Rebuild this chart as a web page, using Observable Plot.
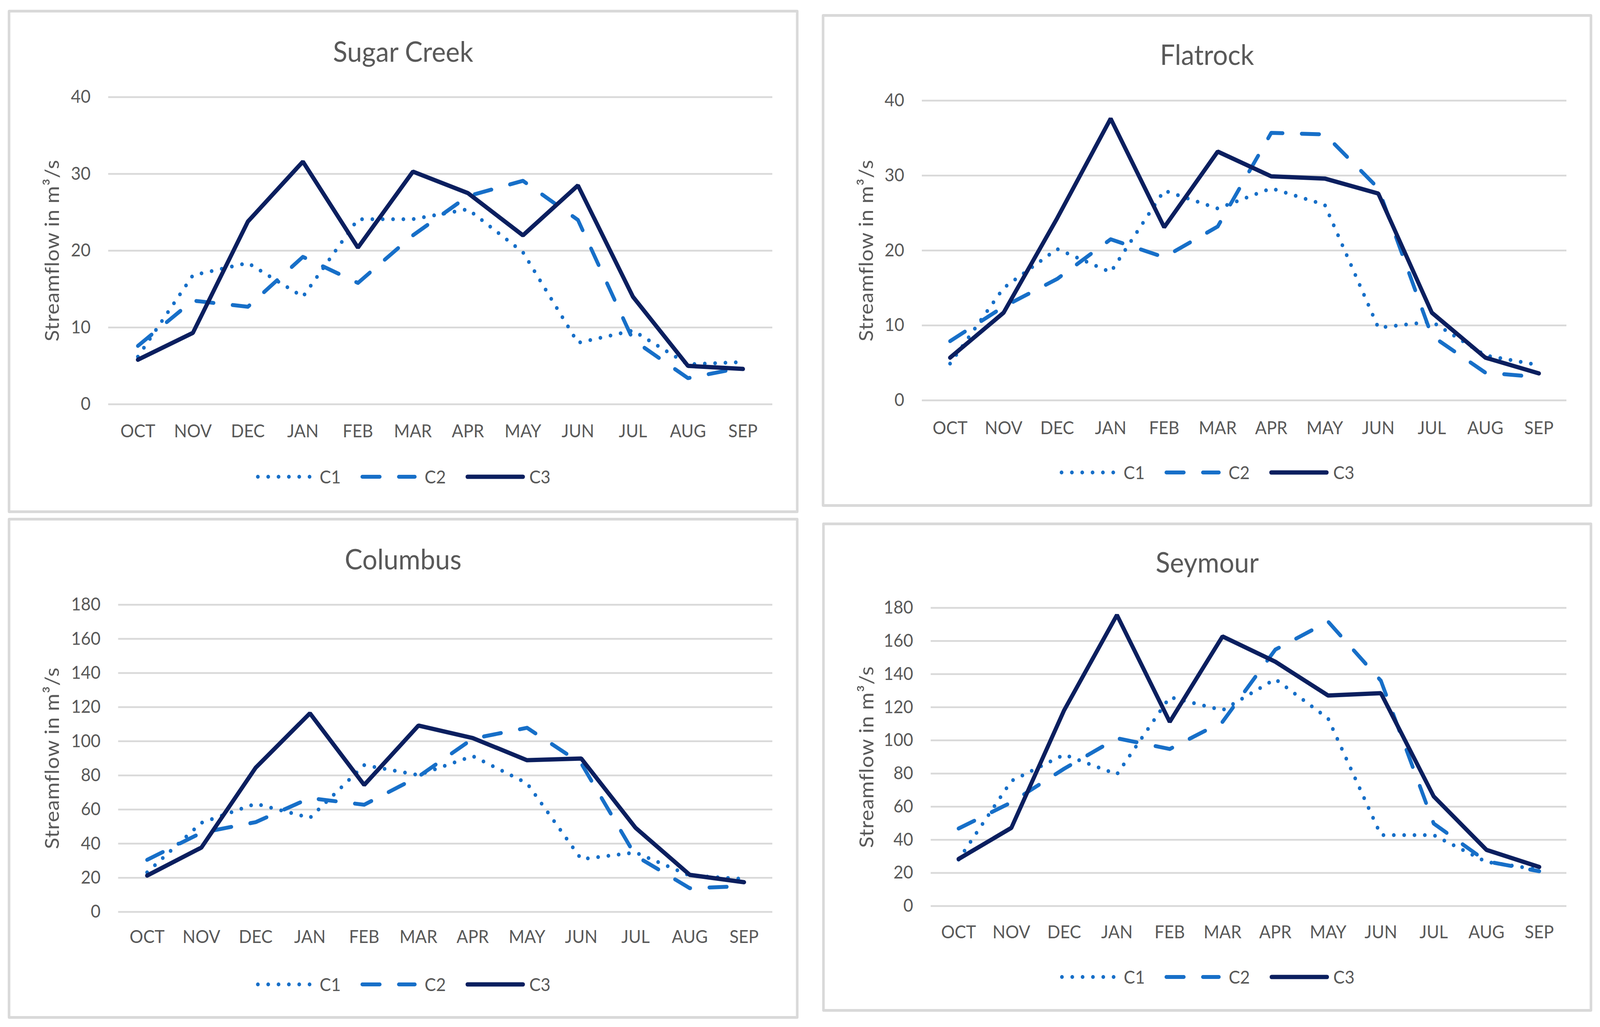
<!DOCTYPE html>
<html>
<head>
<meta charset="utf-8">
<script src="https://cdn.jsdelivr.net/npm/d3@7"></script>
<script src="https://cdn.jsdelivr.net/npm/@observablehq/plot@0.6"></script>
<style>
  html, body { margin: 0; padding: 0; background: #ffffff; overflow: hidden; }
  #root { width: 4334px; height: 2628px; position: absolute; left: 0; top: 0; overflow: hidden; transform-origin: 0 0; font-family: Lato, "Open Sans", sans-serif; color: #595959; background: #fff; }
  .panel { position: absolute; box-sizing: border-box; border: 7px solid #d9d9d9; border-radius: 4px; background: #fff; }
  .title { position: absolute; text-align: center; font-size: 72px; line-height: 1; transform: translateY(-50%); white-space: nowrap; }
  .ylab { position: absolute; font-size: 54px; letter-spacing: 1px; line-height: 1; white-space: nowrap; transform: translate(-50%, -50%) rotate(-90deg); }
  .legend { position: absolute; display: flex; justify-content: center; align-items: center; font-size: 46px; line-height: 1; transform: translateY(-50%); }
  .legend .item { display: flex; align-items: center; }
  .legend svg { display: block; }
  svg.plot { position: absolute; }
</style>
</head>
<body>
<div id="root"></div>
<script>
// ---- data ----
const months = ["OCT","NOV","DEC","JAN","FEB","MAR","APR","MAY","JUN","JUL","AUG","SEP"];
const seriesNames = ["C1","C2","C3"];
const stations = ["Sugar Creek","Flatrock","Columbus","Seymour"];

const sugarC1 = [6.2, 16.8, 18.4, 14.0, 24.1, 24.1, 25.4, 19.8, 8.0, 9.6, 5.2, 5.5];
const sugarC2 = [7.6, 13.5, 12.7, 19.2, 15.8, 22.0, 27.1, 29.1, 24.0, 8.4, 3.4, 4.8];
const sugarC3 = [5.8, 9.3, 23.8, 31.6, 20.4, 30.3, 27.5, 22.0, 28.5, 14.0, 5.0, 4.6];

const flatC1 = [4.9, 15.0, 20.2, 17.1, 28.0, 25.6, 28.3, 26.1, 9.7, 10.5, 6.0, 4.7];
const flatC2 = [7.9, 12.5, 16.2, 21.5, 19.1, 23.2, 35.7, 35.5, 28.3, 8.6, 3.7, 3.1];
const flatC3 = [5.7, 11.7, 24.3, 37.6, 23.1, 33.2, 29.9, 29.6, 27.6, 11.7, 5.7, 3.6];

const columbusC1 = [23.2, 52.2, 63.4, 55.1, 86.0, 80.2, 91.3, 75.4, 30.9, 34.8, 21.3, 19.3];
const columbusC2 = [30.5, 46.4, 52.6, 66.7, 62.8, 79.3, 101.5, 107.9, 87.0, 32.9, 13.9, 15.1];
const columbusC3 = [21.3, 37.7, 84.5, 116.4, 74.4, 109.2, 101.9, 88.9, 89.9, 49.3, 21.7, 17.4];

const seymourC1 = [28.0, 75.5, 91.4, 79.5, 126.1, 118.2, 137.0, 113.2, 42.8, 42.8, 26.6, 22.0];
const seymourC2 = [46.8, 62.6, 82.9, 101.3, 94.8, 111.2, 154.8, 171.7, 136.0, 49.8, 27.0, 21.0];
const seymourC3 = [28.4, 47.2, 118.2, 175.7, 111.2, 162.8, 147.5, 127.1, 128.5, 66.2, 33.9, 23.6];

const ticksSmall = [0, 10, 20, 30, 40];
const ticksLarge = [0, 20, 40, 60, 80, 100, 120, 140, 160, 180];
const yLabel = "Streamflow in m³/s";

// ---- styling ----
const BLUE = "#176FC8", NAVY = "#0B1F5F", GRID = "#d9d9d9", TEXT = "#595959";
const styles = {
  C1: {stroke: BLUE, strokeWidth: 10, strokeDasharray: "0 28", strokeLinecap: "round", strokeLinejoin: "round"},
  C2: {stroke: BLUE, strokeWidth: 10, strokeDasharray: "47 52", strokeLinecap: "round", strokeLinejoin: "round"},
  C3: {stroke: NAVY, strokeWidth: 11, strokeLinecap: "round", strokeLinejoin: "miter"}
};

// panel layout (page px, 4334 x 2628 reference frame)
const panels = [
  {name: stations[0], vals: [sugarC1, sugarC2, sugarC3], ticks: ticksSmall,
   box: {l: 21, t: 25, r: 2163, b: 1313}, plot: {x0: 293, x1: 2092, yt: 248, yb: 1034}, titleY: 130, xpad: 52, legendY: 1220},
  {name: stations[1], vals: [flatC1, flatC2, flatC3], ticks: ticksSmall,
   box: {l: 2226, t: 36, r: 4313, b: 1297}, plot: {x0: 2497, x1: 4243, yt: 257, yb: 1024}, titleY: 138, xpad: 54, legendY: 1209},
  {name: stations[2], vals: [columbusC1, columbusC2, columbusC3], ticks: ticksLarge,
   box: {l: 21, t: 1325, r: 2163, b: 2607}, plot: {x0: 320, x1: 2092, yt: 1547, yb: 2333}, titleY: 1429, xpad: 47, legendY: 2519},
  {name: stations[3], vals: [seymourC1, seymourC2, seymourC3], ticks: ticksLarge,
   box: {l: 2227, t: 1337, r: 4313, b: 2589}, plot: {x0: 2521, x1: 4243, yt: 1555, yb: 2318}, titleY: 1437, xpad: 50, legendY: 2500}
];

const root = document.getElementById("root");
function fit() {
  const vw = document.documentElement.clientWidth || window.innerWidth;
  const vh = document.documentElement.clientHeight || window.innerHeight;
  const sx = vw / 4334, sy = vh / 2628;
  root.style.transform = `scale(${sx}, ${sy})`;
}
fit();
window.addEventListener("resize", fit);

function el(tag, cls, css) {
  const e = document.createElement(tag);
  if (cls) e.className = cls;
  Object.assign(e.style, css || {});
  root.appendChild(e);
  return e;
}

for (const p of panels) {
  const W = p.box.r - p.box.l, H = p.box.b - p.box.t;
  el("div", "panel", {left: p.box.l + "px", top: p.box.t + "px", width: W + "px", height: H + "px"});

  const rows = seriesNames.flatMap((s, i) => months.map((m, j) => ({month: m, value: p.vals[i][j], series: s})));
  const ymax = p.ticks[p.ticks.length - 1];

  const svg = Plot.plot({
    width: W, height: H,
    marginLeft: p.plot.x0 - p.box.l,
    marginRight: p.box.r - p.plot.x1,
    marginTop: p.plot.yt - p.box.t,
    marginBottom: p.box.b - p.plot.yb,
    style: {fontFamily: "Lato, 'Open Sans', sans-serif", fontSize: "46px", color: TEXT, background: "transparent", overflow: "visible", maxWidth: "none"},
    x: {type: "point", domain: months, padding: 0.5},
    y: {domain: [0, ymax]},
    marks: [
      Plot.gridY(p.ticks, {stroke: GRID, strokeOpacity: 1, strokeWidth: 4.5}),
      Plot.axisY(p.ticks, {tickSize: 0, tickPadding: 48, label: null, fontSize: 46, fill: TEXT}),
      Plot.axisX({tickSize: 0, tickPadding: p.xpad, label: null, fontSize: 46, fill: TEXT}),
      ...seriesNames.map(s => Plot.line(rows.filter(d => d.series === s), {x: "month", y: "value", ...styles[s]}))
    ]
  });
  svg.classList.add("plot");
  Object.assign(svg.style, {left: p.box.l + "px", top: p.box.t + "px", width: W + "px", height: H + "px"});
  root.appendChild(svg);

  const t = el("div", "title", {left: p.box.l + "px", width: W + "px", top: p.titleY + "px"});
  t.textContent = p.name;

  const yl = el("div", "ylab", {left: (p.box.l + 119) + "px", top: ((p.plot.yt + p.plot.yb) / 2) + "px"});
  yl.textContent = yLabel;

  const lg = el("div", "legend", {left: p.box.l + "px", width: W + "px", top: p.legendY + "px"});
  const swW = {C1: 152, C2: 153, C3: 161};
  const gapText = {C1: 21, C2: 21, C3: 12};
  seriesNames.forEach((s, i) => {
    const item = document.createElement("div");
    item.className = "item";
    if (i > 0) item.style.marginLeft = "53px";
    const ns = "http://www.w3.org/2000/svg";
    const sw = document.createElementNS(ns, "svg");
    sw.setAttribute("width", swW[s]); sw.setAttribute("height", 24);
    const ln = document.createElementNS(ns, "line");
    const st = styles[s];
    ln.setAttribute("x1", 5.5); ln.setAttribute("x2", swW[s] - 5.5);
    ln.setAttribute("y1", 12); ln.setAttribute("y2", 12);
    ln.setAttribute("stroke", st.stroke);
    ln.setAttribute("stroke-width", st.strokeWidth);
    ln.setAttribute("stroke-linecap", "round");
    if (st.strokeDasharray) ln.setAttribute("stroke-dasharray", st.strokeDasharray);
    sw.appendChild(ln);
    item.appendChild(sw);
    const tx = document.createElement("span");
    tx.textContent = s;
    tx.style.marginLeft = gapText[s] + "px";
    item.appendChild(tx);
    lg.appendChild(item);
  });
}
</script>
</body>
</html>
